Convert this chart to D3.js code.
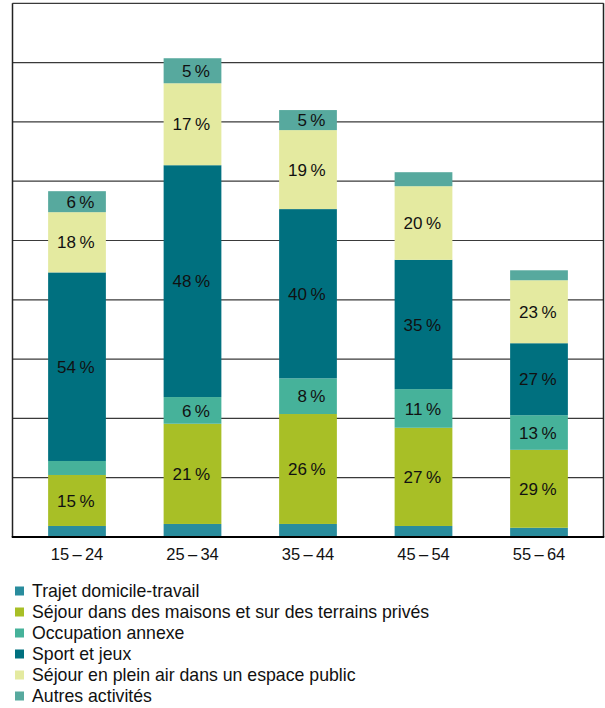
<!DOCTYPE html>
<html>
<head>
<meta charset="utf-8">
<script src="https://cdn.jsdelivr.net/npm/d3@7"></script>
<style>
  body { margin: 0; background: #fff; }
  svg { display: block; font-family: "Liberation Sans", Arial, Helvetica, sans-serif; }
</style>
</head>
<body>
<div id="chart"></div>
<script>
// age groups
const ages = ["15\u2009\u2013\u200924", "25\u2009\u2013\u200934", "35\u2009\u2013\u200944", "45\u2009\u2013\u200954", "55\u2009\u2013\u200964"];

const seriesNames = [
  "Trajet domicile-travail",
  "Séjour dans des maisons et sur des terrains privés",
  "Occupation annexe",
  "Sport et jeux",
  "Séjour en plein air dans un espace public",
  "Autres activités"
];
const seriesColors = ["#298c9d", "#a8bf26", "#46b29a", "#00707f", "#e4eaa0", "#57a99e"];

// values (thousands of accidents)
const trajet   = [0.93, 1.10, 1.10, 0.93, 0.78];
const prive    = [4.30, 8.45, 9.27, 8.28, 6.57];
const annexe   = [1.18, 2.25, 3.01, 3.26, 2.92];
const sport    = [15.90, 19.55, 14.27, 10.90, 6.07];
const pleinAir = [5.08, 6.91, 6.66, 6.21, 5.31];
const autres   = [1.77, 2.11, 1.69, 1.18, 0.84];

// share labels printed in the bars (null = none)
const pctTrajet   = [null, null, null, null, null];
const pctPrive    = [15, 21, 26, 27, 29];
const pctAnnexe   = [null, 6, 8, 11, 13];
const pctSport    = [54, 48, 40, 35, 27];
const pctPleinAir = [18, 17, 19, 20, 23];
const pctAutres   = [6, 5, 5, null, null];

const yMax = 45, yStep = 5;

const W = 605, H = 708;
const mLeft = 12.5, mRight = 603.5, mTop = 3.33, mBottom = 537;

const valueSets = [trajet, prive, annexe, sport, pleinAir, autres];
const pctSets = [pctTrajet, pctPrive, pctAnnexe, pctSport, pctPleinAir, pctAutres];

const rows = ages.map((a, i) => {
  const r = { age: a };
  valueSets.forEach((v, k) => r[k] = v[i]);
  return r;
});

const stack = d3.stack().keys(d3.range(seriesNames.length));
const layers = stack(rows);

const svg = d3.select("#chart").append("svg")
  .attr("width", W).attr("height", H);

const x = d3.scaleBand()
  .domain(ages)
  .range([19.25, 596.75])
  .paddingInner(0.5)
  .paddingOuter(0.25);

const y = d3.scaleLinear().domain([0, yMax]).range([mBottom, mTop]);

// grid
svg.append("g")
  .selectAll("line")
  .data(d3.range(yStep, yMax + 0.01, yStep))
  .join("line")
    .attr("x1", mLeft).attr("x2", mRight)
    .attr("y1", d => y(d)).attr("y2", d => y(d))
    .attr("stroke", "#3a3a3a")
    .attr("stroke-width", 1.2);

// frame sides
svg.append("line").attr("x1", mLeft).attr("x2", mLeft).attr("y1", mTop).attr("y2", mBottom)
  .attr("stroke", "#222").attr("stroke-width", 1.5);
svg.append("line").attr("x1", mRight).attr("x2", mRight).attr("y1", mTop).attr("y2", mBottom)
  .attr("stroke", "#222").attr("stroke-width", 1.5);

// bars
const g = svg.append("g")
  .selectAll("g")
  .data(layers)
  .join("g")
    .attr("fill", d => seriesColors[d.key]);

g.selectAll("rect")
  .data(d => d)
  .join("rect")
    .attr("x", d => x(d.data.age))
    .attr("width", x.bandwidth())
    .attr("y", d => y(d[1]))
    .attr("height", d => y(d[0]) - y(d[1]));

// labels
layers.forEach(layer => {
  svg.append("g").selectAll("text")
    .data(layer.filter((d, i) => pctSets[layer.key][i] != null)
      .map(d => ({ d, p: pctSets[layer.key][ages.indexOf(d.data.age)] })))
    .join("text")
      .attr("x", o => x(o.d.data.age) + x.bandwidth() / 2 + 17.5)
      .attr("y", o => (y(o.d[0]) + y(o.d[1])) / 2)
      .attr("dy", "0.36em")
      .attr("text-anchor", "end")
      .attr("font-size", 17)
      .attr("fill", "#111")
      .text(o => o.p + "\u2009%");
});

// baseline
svg.append("line").attr("x1", mLeft - 0.75).attr("x2", mRight + 0.75).attr("y1", mBottom).attr("y2", mBottom)
  .attr("stroke", "#000").attr("stroke-width", 2);

// x axis labels
const xAxis = svg.append("g")
  .attr("transform", `translate(0,${mBottom})`)
  .call(d3.axisBottom(x).tickSize(0).tickPadding(11));
xAxis.select(".domain").remove();
xAxis.selectAll("text")
  .attr("font-size", 16.5)
  .attr("font-family", "Liberation Sans, Arial, sans-serif")
  .attr("fill", "#111");

// legend
const legend = svg.append("g")
  .selectAll("g")
  .data(seriesNames)
  .join("g")
    .attr("transform", (d, i) => `translate(15,${591 + i * 21})`);

legend.append("rect")
  .attr("x", 0).attr("y", -4.5)
  .attr("width", 9).attr("height", 9)
  .attr("fill", (d, i) => seriesColors[i]);

legend.append("text")
  .attr("x", 17)
  .attr("y", 0)
  .attr("dy", "0.36em")
  .attr("font-size", 17.7)
  .attr("fill", "#111")
  .text(d => d);
</script>
</body>
</html>
